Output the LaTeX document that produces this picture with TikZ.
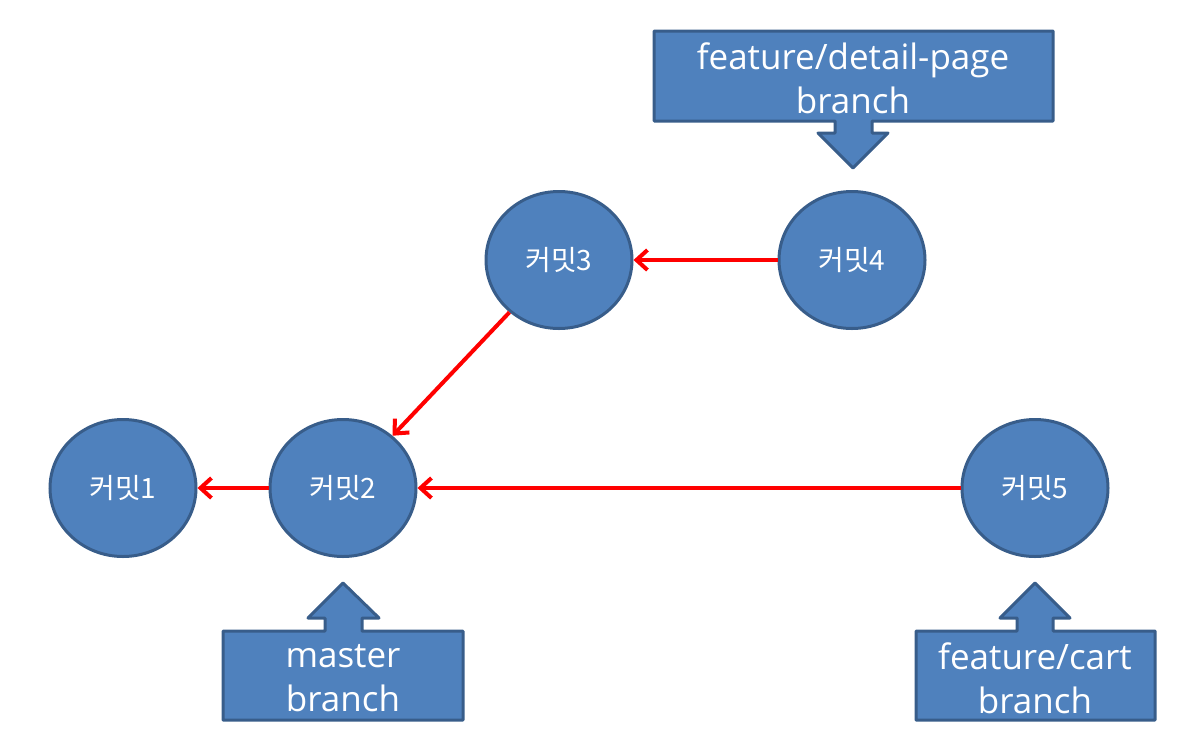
\documentclass[tikz,border=0pt]{standalone}
\usepackage{fontspec}
\setmainfont{Open Sans}
\newfontfamily\cjk{Noto Sans CJK KR}
\usetikzlibrary{arrows.meta,shapes.geometric}
\definecolor{boxfill}{HTML}{4F81BD}
\definecolor{boxline}{HTML}{385D8A}
\tikzset{
  commit/.style={ellipse, draw=boxline, fill=boxfill, line width=3pt, minimum width=146pt, minimum height=137pt, inner sep=0pt, text=white, font=\cjk\fontsize{28}{32}\selectfont},
  callout/.style={draw=boxline, fill=boxfill, line width=3pt, line join=round},
  calltext/.style={text=white, align=center, font=\fontsize{35}{44}\selectfont},
  link/.style={draw=red, line width=4pt, -{Straight Barb[length=11pt,width=20pt,line width=4pt]}}
}
\begin{document}
\begin{tikzpicture}[x=1pt,y=-1pt]
\useasboundingbox (0,0) rectangle (1187,753);
% callouts
\path[callout] (654,31) -- (1053,31) -- (1053,121) -- (872,121) -- (872,133) -- (888,133) -- (853,168) -- (818,133) -- (835,133) -- (835,121) -- (654,121) -- cycle;
\node[calltext] (cdetail) at (853,78) {feature/detail-page\\branch};
\path[callout] (223,720) -- (463,720) -- (463,631) -- (362,631) -- (362,618) -- (379,618) -- (343,583) -- (308,618) -- (325,618) -- (325,631) -- (223,631) -- cycle;
\node[calltext] (cmaster) at (343,678) {master\\branch};
\path[callout] (916,720) -- (1155,720) -- (1155,631) -- (1053,631) -- (1053,618) -- (1070,618) -- (1035,583) -- (1000,618) -- (1017,618) -- (1017,631) -- (916,631) -- cycle;
\node[calltext] (ccart) at (1035,678) {feature/cart\\branch};
% commits
\node[commit] (c1) at (123,488) {커밋1};
\node[commit] (c2) at (343,488) {커밋2};
\node[commit] (c3) at (559,260) {커밋3};
\node[commit] (c4) at (852,260) {커밋4};
\node[commit] (c5) at (1035,488) {커밋5};
% links
\draw[link] (c4) -- (c3);
\draw[link] (c3) -- (c2);
\draw[link] (c2) -- (c1);
\draw[link] (c5) -- (c2);
\end{tikzpicture}
\end{document}
